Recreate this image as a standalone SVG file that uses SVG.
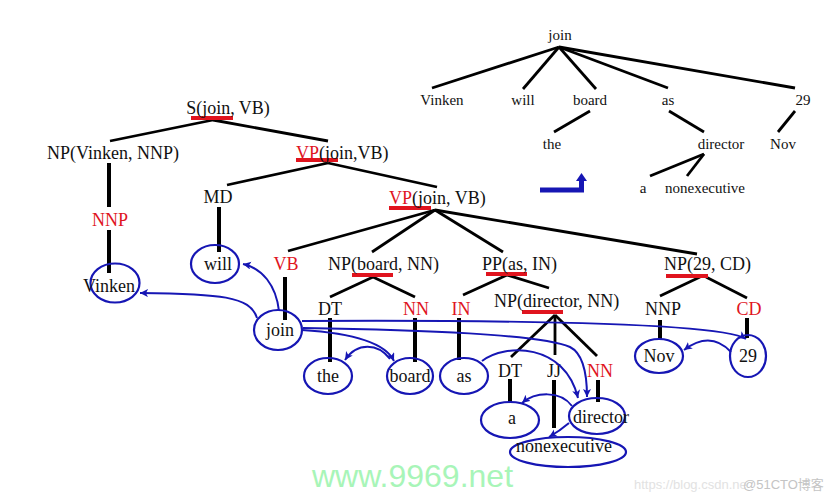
<svg xmlns="http://www.w3.org/2000/svg" width="829" height="500" viewBox="0 0 829 500">
<defs>
<style>
.t{font-family:"Liberation Serif","Times New Roman",serif;font-size:18px;fill:#111;}
.s{font-family:"Liberation Serif","Times New Roman",serif;font-size:15px;fill:#111;}
.r{fill:#e0141e;}
.m{text-anchor:middle;}
.e{fill:none;stroke:#1616b4;stroke-width:2.2;}
.l{stroke:#000;stroke-width:2.8;fill:none;}
.v{stroke:#000;stroke-width:4;fill:none;}
.u{stroke:#e0141e;stroke-width:4;}
.a{fill:none;stroke:#1616b4;stroke-width:2;marker-end:url(#ah);}
</style>
<marker id="ah" markerWidth="10" markerHeight="10" refX="8" refY="4" orient="auto" markerUnits="userSpaceOnUse">
<path d="M0,0 L8,4 L0,8 L2,4 z" fill="#1616b4"/>
</marker>
</defs>
<rect width="829" height="500" fill="#fff"/>

<!-- top dependency tree -->
<g id="deptree">
<g class="l">
<line x1="559" y1="47" x2="432" y2="88"/>
<line x1="559" y1="47" x2="523" y2="89"/>
<line x1="559" y1="47" x2="596" y2="89"/>
<line x1="559" y1="47" x2="668" y2="88"/>
<line x1="559" y1="47" x2="795" y2="88"/>
<line x1="590" y1="111" x2="554" y2="132"/>
<line x1="669" y1="111" x2="704" y2="132"/>
<line x1="795" y1="111" x2="778" y2="132"/>
<line x1="704" y1="154" x2="650" y2="176"/>
<line x1="704" y1="154" x2="687" y2="176"/>
</g>
<text class="s m" x="560" y="40">join</text>
<text class="s m" x="442" y="105">Vinken</text>
<text class="s m" x="523" y="105">will</text>
<text class="s m" x="590" y="105">board</text>
<text class="s m" x="668" y="105">as</text>
<text class="s m" x="803" y="105">29</text>
<text class="s m" x="552" y="149">the</text>
<text class="s m" x="721" y="149">director</text>
<text class="s m" x="783" y="149">Nov</text>
<text class="s m" x="643" y="193">a</text>
<text class="s m" x="705" y="193">nonexecutive</text>
</g>
<g id="arrow-icon">
<path d="M540,190 H581.5 V180" fill="none" stroke="#1616b4" stroke-width="5"/>
<path d="M576,181 L581.5,173 L587,181 z" fill="#1616b4"/>
</g>

<!-- phrase structure tree lines -->
<g id="tree-lines">
<line class="l" x1="213" y1="120" x2="110" y2="141"/>
<line class="l" x1="213" y1="120" x2="328" y2="141"/>
<line class="v" x1="109" y1="163" x2="109" y2="207"/>
<line class="v" x1="109" y1="230" x2="109" y2="273"/>
<line class="l" x1="328" y1="163" x2="227" y2="185"/>
<line class="l" x1="328" y1="163" x2="437" y2="187"/>
<line class="v" x1="219" y1="207" x2="219" y2="252"/>
<line class="l" x1="435" y1="210" x2="288" y2="251"/>
<line class="l" x1="435" y1="210" x2="372" y2="252"/>
<line class="l" x1="435" y1="210" x2="503" y2="252"/>
<line class="l" x1="435" y1="210" x2="697" y2="254"/>
<line class="v" x1="285" y1="277" x2="285" y2="320"/>
<line class="l" x1="373" y1="277" x2="330" y2="297"/>
<line class="l" x1="373" y1="277" x2="415" y2="297"/>
<line class="l" x1="507" y1="275" x2="463" y2="295"/>
<line class="l" x1="507" y1="275" x2="549" y2="288"/>
<line class="v" x1="330" y1="318" x2="330" y2="362"/>
<line class="v" x1="415" y1="318" x2="415" y2="362"/>
<line class="v" x1="459" y1="318" x2="459" y2="360"/>
<line class="l" x1="555" y1="315" x2="511" y2="357"/>
<line class="l" x1="555" y1="315" x2="555" y2="355"/>
<line class="l" x1="555" y1="315" x2="597" y2="356"/>
<line class="v" x1="510" y1="379" x2="510" y2="402"/>
<line class="v" x1="554" y1="380" x2="554" y2="428"/>
<line class="v" x1="598" y1="380" x2="598" y2="402"/>
<line class="l" x1="700" y1="277" x2="660" y2="296"/>
<line class="l" x1="706" y1="277" x2="747" y2="298"/>
<line class="v" x1="660" y1="320" x2="660" y2="340"/>
<line class="v" x1="747" y1="318" x2="747" y2="338"/>
</g>

<!-- phrase labels -->
<g id="S"><line class="u" x1="191" y1="118" x2="233" y2="118"/><text class="t m" x="228" y="114">S(join, VB)</text></g>
<g id="NP-Vinken"><text class="t m" x="113" y="159">NP(Vinken, NNP)</text></g>
<g id="VP1"><line class="u" x1="296" y1="160" x2="338" y2="160"/><text class="t" x="296" y="159"><tspan class="r">VP</tspan>(join,VB)</text></g>
<g id="NNP1"><text class="t m r" x="110" y="226">NNP</text></g>
<g id="MD"><text class="t m" x="218" y="203">MD</text></g>
<g id="VP2"><line class="u" x1="389" y1="208" x2="431" y2="208"/><text class="t" x="389" y="204"><tspan class="r">VP</tspan>(join, VB)</text></g>
<g id="VB"><text class="t m r" x="286" y="270">VB</text></g>
<g id="NP-board"><line class="u" x1="352" y1="275" x2="393" y2="275"/><text class="t" x="328" y="270">NP(board, NN)</text></g>
<g id="PP"><line class="u" x1="486" y1="274" x2="527" y2="274"/><text class="t" x="482" y="270">PP(as, IN)</text></g>
<g id="NP-29"><line class="u" x1="666" y1="276" x2="708" y2="276"/><text class="t" x="664" y="270">NP(29, CD)</text></g>
<g id="DT1"><text class="t m" x="330" y="315">DT</text></g>
<g id="NN1"><text class="t m r" x="416" y="315">NN</text></g>
<g id="IN"><text class="t m r" x="461" y="315">IN</text></g>
<g id="NP-director"><line class="u" x1="522" y1="312" x2="563" y2="312"/><text class="t" x="494" y="307">NP(director, NN)</text></g>
<g id="NNP2"><text class="t m" x="663" y="315">NNP</text></g>
<g id="CD"><text class="t m r" x="749" y="315">CD</text></g>
<g id="DT2"><text class="t m" x="510" y="377">DT</text></g>
<g id="JJ"><text class="t m" x="554" y="377">JJ</text></g>
<g id="NN2"><text class="t m r" x="600" y="377">NN</text></g>

<!-- word nodes -->
<g id="w-Vinken"><ellipse class="e" cx="115" cy="283" rx="24.5" ry="19.5"/><text class="t" x="83" y="292">Vinken</text></g>
<g id="w-will"><ellipse class="e" cx="215" cy="264" rx="24" ry="19"/><text class="t m" x="218" y="270">will</text></g>
<g id="w-join"><ellipse class="e" cx="278" cy="330" rx="24" ry="20"/><text class="t m" x="280" y="336">join</text></g>
<g id="w-the"><ellipse class="e" cx="328" cy="376" rx="24" ry="18"/><text class="t m" x="328" y="382">the</text></g>
<g id="w-board"><ellipse class="e" cx="410" cy="376" rx="23" ry="18"/><text class="t m" x="410" y="382">board</text></g>
<g id="w-as"><ellipse class="e" cx="464" cy="376" rx="24" ry="18"/><text class="t m" x="464" y="382">as</text></g>
<g id="w-Nov"><ellipse class="e" cx="659" cy="356" rx="24" ry="17"/><text class="t m" x="659" y="362">Nov</text></g>
<g id="w-29"><ellipse class="e" cx="748" cy="356" rx="18" ry="21"/><text class="t m" x="748" y="362">29</text></g>
<g id="w-a"><ellipse class="e" cx="510" cy="420" rx="29" ry="18"/><text class="t m" x="512" y="424">a</text></g>
<g id="w-director"><ellipse class="e" cx="597" cy="416" rx="28" ry="18"/><text class="t" x="573" y="423">director</text></g>
<g id="w-nonexecutive"><ellipse class="e" cx="568" cy="452" rx="58" ry="15"/><text class="t" x="516" y="452">nonexecutive</text></g>

<!-- dependency arcs -->
<g id="connectors">
<path class="a" d="M257,318 C250,296 220,294 140,293"/>
<path class="a" d="M279,311 C276,285 262,268 243,264"/>
<path class="a" d="M302,330 C350,333 385,342 394,361"/>
<path class="a" d="M390,359 C378,343 357,342 345,360"/>
<path class="a" d="M303,328 C420,330 540,334 570,347 C584,354 587,375 587,397"/>
<path class="a" d="M482,361 C505,343 565,343 578,398"/>
<path class="a" d="M572,406 C560,390 535,392 522,403"/>
<path class="a" d="M569,423 C562,429 556,433 549,437"/>
<path class="a" d="M302,321 C500,320 720,322 746,339"/>
<path class="a" d="M731,352 C716,336 700,338 684,350"/>
</g>

<!-- watermarks -->
<text x="312" y="487" font-family="'Liberation Sans',Arial,sans-serif" font-size="32" fill="#a8f5b8">www.9969.net</text>
<text x="634" y="489" font-family="'Liberation Sans',Arial,sans-serif" font-size="13" fill="#e2e2e2">https://blog.csdn.ne</text>
<text x="743" y="489" font-family="'Liberation Sans','Noto Sans CJK SC',sans-serif" font-size="13" fill="#c4c4c4">@51CTO博客</text>
</svg>
